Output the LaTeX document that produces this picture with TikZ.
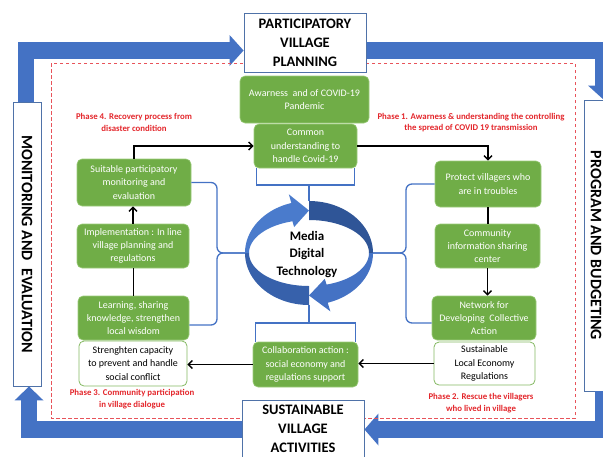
\documentclass[tikz,border=0pt]{standalone}
\usepackage{fontspec}
\setmainfont{Carlito}
\usetikzlibrary{arrows.meta,shapes.geometric}
\definecolor{gfill}{HTML}{70AD47}
\definecolor{gline}{HTML}{9BCB7A}
\definecolor{fblue}{HTML}{4472C4}
\definecolor{dblue}{HTML}{2F5597}
\definecolor{mblue}{HTML}{3761AB}
\definecolor{lblue}{HTML}{4A7BCC}
\definecolor{tborder}{HTML}{4F72A8}
\definecolor{phred}{HTML}{E3262B}
\definecolor{dashred}{HTML}{E8535A}
\begin{document}
\begin{tikzpicture}[x=1pt,y=-1pt,
 gbox/.style={draw=gline, line width=0.6pt, fill=gfill, rounded corners=5pt, text=white, align=center, inner sep=0pt, font=\fontsize{10}{13.3}\selectfont},
 wbox/.style={draw=gfill!85!white, line width=0.8pt, fill=white, rounded corners=5pt, text=black, align=center, inner sep=0pt, font=\fontsize{10}{13.3}\selectfont},
 tbox/.style={draw=tborder, line width=0.9pt, fill=white, align=center, inner sep=0pt, font=\fontsize{14.5}{19}\selectfont\bfseries},
 sidelabel/.style={font=\fontsize{16}{19}\selectfont\bfseries, rotate=-90, inner sep=0pt},
 phase/.style={text=phred, align=center, font=\fontsize{8.8}{11.8}\selectfont\bfseries, inner sep=0pt},
 frameline/.style={draw=fblue, line width=16.5pt, shorten >=13.5pt},
 arr/.style={draw=black, line width=1.4pt, -{Straight Barb[length=4pt,width=8pt]}},
 ln/.style={draw=black, line width=1.4pt},
 blu/.style={draw=fblue, line width=1.3pt, rounded corners=6pt},
]
\useasboundingbox (0,0) rectangle (603,456);
\clip (0,0) rectangle (603,456);

% ---------- side and title boxes ----------
\node[tbox, minimum width=122pt, minimum height=59pt] (plan) at (305,42.5) {PARTICIPATORY\\VILLAGE\\PLANNING};
\node[tbox, minimum width=122pt, minimum height=57pt] (sus) at (303,428.5) {SUSTAINABLE\\VILLAGE\\ACTIVITIES};
\node[draw=tborder, line width=0.9pt, fill=white, minimum width=28pt, minimum height=284pt, inner sep=0pt] (mon) at (27,244) {};
\node[draw=tborder, line width=0.9pt, fill=white, minimum width=24pt, minimum height=291pt, inner sep=0pt] (prog) at (596,245.5) {};

% ---------- outer frame ----------
\coordinate (tl) at (26,50.5);
\coordinate (tr) at (603.5,50.5);
\coordinate (br) at (603.5,429.5);
\coordinate (bl) at (29,429.5);
\draw[frameline] (mon.north -| tl) -- (tl) -- (tl -| plan.west);
\fill[fblue] (tl -| plan.west) -- ++(-14,-15.5) -- ++(0,31) -- cycle;
\draw[frameline] (tl -| plan.east) -- (tr) -- (tr |- prog.north);
\fill[fblue] (tr |- prog.north) -- ++(-15.5,-14) -- ++(31,0) -- cycle;
\draw[frameline] (tr |- prog.south) -- (br) -- (br -| sus.east);
\fill[fblue] (br -| sus.east) -- ++(14,-16) -- ++(0,32) -- cycle;
\draw[frameline] (br -| sus.west) -- (bl) -- (bl |- mon.south);
\fill[fblue] (bl |- mon.south) -- ++(-14.5,14) -- ++(29,0) -- cycle;

% dashed region
\draw[dashred, line width=0.8pt, dash pattern=on 3.5pt off 2.5pt] (51,63) rectangle (575,418);

% redraw boxes on top
\node[tbox, minimum width=122pt, minimum height=59pt] at (plan) {PARTICIPATORY\\VILLAGE\\PLANNING};
\node[tbox, minimum width=122pt, minimum height=57pt] at (sus) {SUSTAINABLE\\VILLAGE\\ACTIVITIES};
\node[sidelabel] (monlabel) at (mon) {MONITORING AND\ \ EVALUATION};
\node[sidelabel] (proglabel) at (prog) {PROGRAM AND BUDGETING};

% ---------- green and white boxes ----------
\node[gbox, minimum width=129pt, minimum height=47pt] (aw) at (304.5,99.5) {Awarness\ \ and of COVID-19\\Pandemic};
\node[gbox, minimum width=103pt, minimum height=44pt] (cu) at (305.5,146) {Common\\understanding to\\handle Covid-19};
\node[gbox, minimum width=114pt, minimum height=47pt] (suit) at (134,182.5) {Suitable participatory\\monitoring and\\evaluation};
\node[gbox, minimum width=112pt, minimum height=44pt] (impl) at (133,246) {Implementation : In line\\village planning and\\regulations};
\node[gbox, minimum width=111pt, minimum height=44pt] (learn) at (133.5,318) {Learning, sharing\\knowledge, strengthen\\local wisdom};
\node[wbox, minimum width=108pt, minimum height=45pt] (streng) at (133,363.5) {Strenghten capacity\\to prevent and handle\\social conflict};
\node[gbox, minimum width=106pt, minimum height=46pt] (prot) at (488,184) {Protect villagers who\\are in troubles};
\node[gbox, minimum width=105pt, minimum height=44pt] (comm) at (487.5,246) {Community\\information sharing\\center};
\node[gbox, minimum width=104pt, minimum height=44pt] (netw) at (484,318) {Network for\\Developing\ \ Collective\\Action};
\node[wbox, minimum width=101pt, minimum height=43pt] (sle) at (484.5,363.5) {Sustainable\\Local Economy\\Regulations};
\node[gbox, minimum width=105pt, minimum height=45pt] (coll) at (305.5,364.5) {Collaboration action :\\social economy and\\regulations support};

% ---------- phase labels ----------
\node[phase] (ph4) at (134,122.5) {Phase 4. Recovery process from\\disaster condition};
\node[phase] (ph1) at (471,122.5) {Phase 1. Awarness \& understanding the controlling\\the spread of COVID 19 transmission};
\node[phase] (ph3) at (132,399) {Phase 3. Community participation\\in village dialogue};
\node[phase] (ph2) at (481,403) {Phase 2. Rescue the villagers\\who lived in village};

% ---------- central cycle ----------
\node[ellipse, minimum width=128pt, minimum height=104pt, inner sep=0pt] (ring) at (309,253) {};
% arrow B (top -> right -> bottom)
\fill[dblue] plot[domain=-90:0,samples=30] ({309+64*cos(\x)},{253+52*sin(\x)})
  -- plot[domain=0:-90,samples=30] ({309+60*cos(\x)},{253+33*sin(\x)}) -- cycle;
\fill[fblue] plot[domain=0:73,samples=30] ({309+64*cos(\x)},{253+52*sin(\x)})
  -- ({309+73*cos(73)},{253+61*sin(73)}) -- (309,295.5) -- ({309+54*cos(73)},{253+27*sin(73)})
  -- plot[domain=73:0,samples=30] ({309+60*cos(\x)},{253+33*sin(\x)}) -- cycle;
% arrow A (bottom -> left -> top)
\fill[mblue] plot[domain=90:180,samples=30] ({309+64*cos(\x)},{253+52*sin(\x)})
  -- plot[domain=180:90,samples=30] ({309+60*cos(\x)},{253+33*sin(\x)}) -- cycle;
\fill[lblue] plot[domain=180:254,samples=30] ({309+64*cos(\x)},{253+52*sin(\x)})
  -- ({309+73*cos(254)},{253+61*sin(254)}) -- (309,210.5) -- ({309+54*cos(254)},{253+27*sin(254)})
  -- plot[domain=254:180,samples=30] ({309+60*cos(\x)},{253+33*sin(\x)}) -- cycle;
\node[font=\fontsize{13}{17.5}\selectfont\bfseries, align=center, inner sep=0pt] (mdt) at (307,254.5) {Media\\Digital\\Technology};

% ---------- blue brackets ----------
\coordinate (tb) at (309,185);
\coordinate (bb) at (309,323);
\coordinate (lb) at (217,253);
\coordinate (rb) at (406,253);
\draw[blu, rounded corners=0pt] ([xshift=2.5pt]cu.south west) |- (tb) -| ([xshift=-2.5pt]cu.south east);
\draw[blu] (tb) -- (ring.north);
\draw[blu, rounded corners=0pt] ([xshift=2.5pt]coll.north west) |- (bb) -| ([xshift=-2.5pt]coll.north east);
\draw[blu] (bb) -- (ring.south);
\draw[blu] (suit.east) -| (lb) -- (ring.west);
\draw[blu] ([yshift=-7pt]learn.east) -| (lb) -- (ring.west);
\draw[blu] (prot.west) -| (rb) -- (ring.east);
\draw[blu] ([yshift=-5pt]netw.west) -| (rb) -- (ring.east);

% ---------- black connectors ----------
\draw[arr] (suit.north) |- (cu.west);
\draw[arr] (cu.east) -| (prot.north);
\draw[arr] (impl.north) -- (impl.north |- suit.south);
\draw[ln] (learn.north) -- (learn.north |- impl.south);
\draw[ln] (prot.south) -- (prot.south |- comm.north);
\draw[arr] (comm.south) -- (comm.south |- netw.north);
\draw[arr] (sle.west) -- (sle.west -| coll.east);
\draw[arr] (coll.west) -- (coll.west -| streng.east);
\end{tikzpicture}
\end{document}
